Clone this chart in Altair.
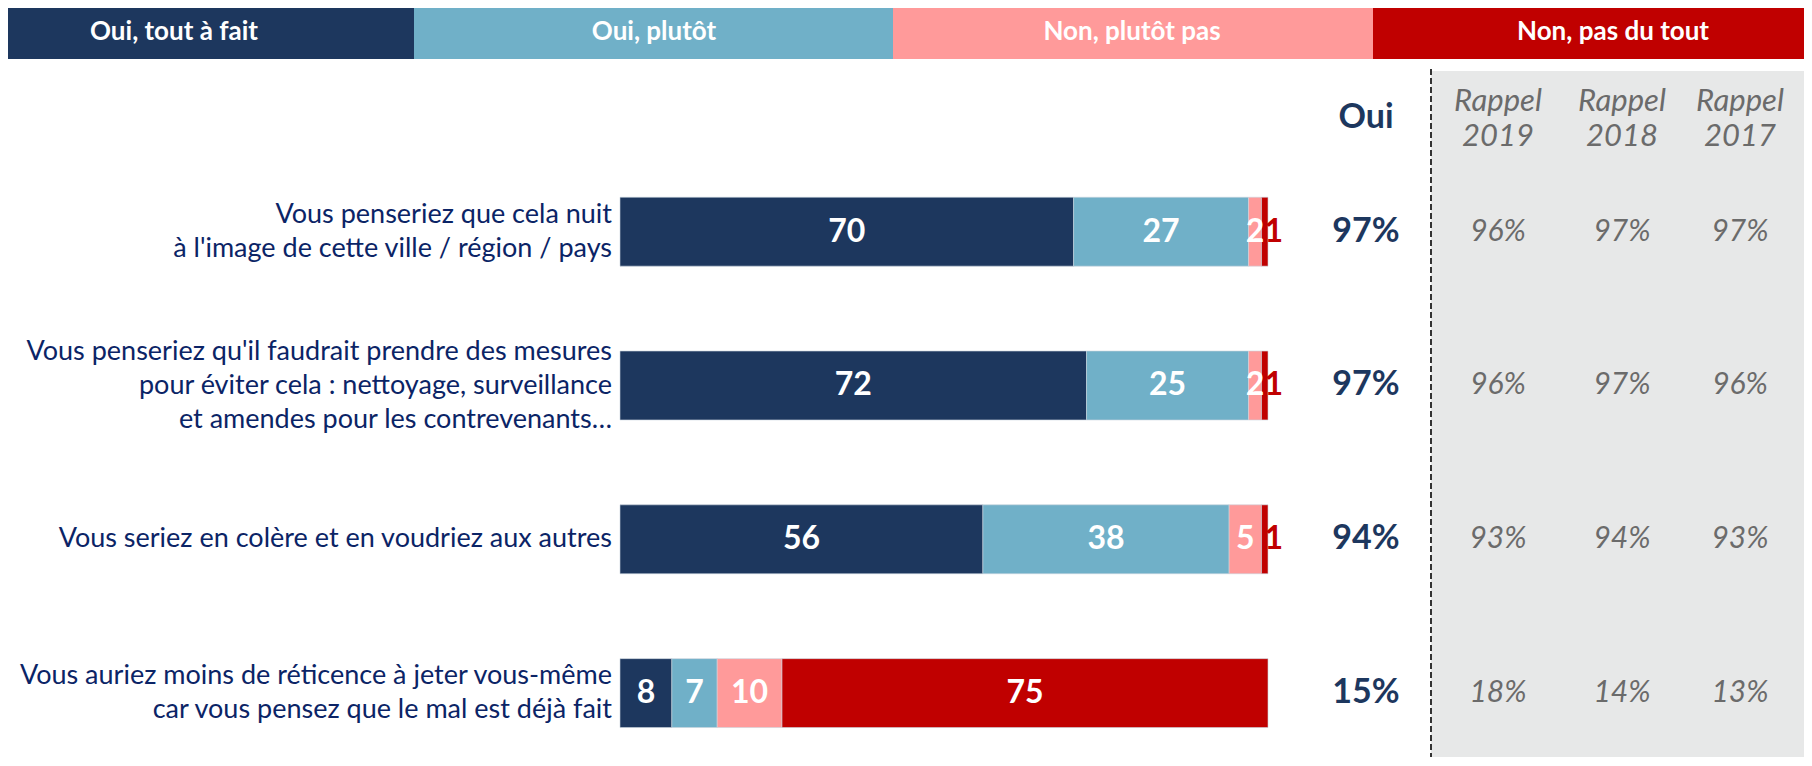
import altair as alt
import pandas as pd

# ---------------- data ----------------
categories = [
    "Vous penseriez que cela nuit\nà l'image de cette ville / région / pays",
    "Vous penseriez qu'il faudrait prendre des mesures\npour éviter cela : nettoyage, surveillance\net amendes pour les contrevenants…",
    "Vous seriez en colère et en voudriez aux autres",
    "Vous auriez moins de réticence à jeter vous-même\ncar vous pensez que le mal est déjà fait",
]
series_names = ["Oui, tout à fait", "Oui, plutôt", "Non, plutôt pas", "Non, pas du tout"]
tout_a_fait = [70, 72, 56, 8]
plutot = [27, 25, 38, 7]
plutot_pas = [2, 2, 5, 10]
pas_du_tout = [1, 1, 1, 75]
oui_total = [97, 97, 94, 15]
rappel_years = ["Rappel\n2019", "Rappel\n2018", "Rappel\n2017"]
rappel_2019 = [96, 96, 93, 18]
rappel_2018 = [97, 97, 94, 14]
rappel_2017 = [97, 96, 93, 13]

# ---------------- style ----------------
colors = ["#1d375e", "#70b0c8", "#ff9a9a", "#c00000"]
label_color = "#0b2466"
navy = "#1d375e"
grey_text = "#6b6b6b"
FONT = "Lato"

W, H = 1796, 750
PX_PER_UNIT = 6.48          # pixels per percentage point
X0_PAGE = 620               # page x of 0 %
ROW1_PAGE = 232             # page y of first bar centre
ROW_STEP = 154              # pixels between rows
LINE_H = 34
HEAD_LINE_H = 35


def u(page_x):
    page_x = min(max(page_x, 8), 8 + W)
    return (page_x - X0_PAGE) / PX_PER_UNIT


def r(page_y):
    page_y = min(max(page_y, 8), 8 + H)
    return (page_y - ROW1_PAGE) / ROW_STEP + 1


xscale = alt.Scale(domain=[u(8), u(8 + W)], nice=False, zero=False)
yscale = alt.Scale(domain=[r(8), r(8 + H)], nice=False, zero=False, reverse=True)
BAR_HALF = 34.5 / ROW_STEP

# ---------------- tables ----------------
seg_rows, lab_rows = [], []
series = [tout_a_fait, plutot, plutot_pas, pas_du_tout]
for i in range(len(categories)):
    start = 0
    for s, vals in enumerate(series):
        v = vals[i]
        seg_rows.append(dict(row=i + 1, x=start, x2=start + v, y=i + 1 - BAR_HALF,
                             y2=i + 1 + BAR_HALF, col=colors[s]))
        small_red = (s == 3 and v < 3)
        lab_rows.append(dict(row=i + 1,
                             x=(start + v + 0.9) if small_red else (start + v / 2),
                             txt=str(v),
                             tcol=colors[3] if small_red else "white"))
        start += v
seg_df = pd.DataFrame(seg_rows)
lab_df = pd.DataFrame(lab_rows)

# first line position so that multi-line labels are centred on the bar
cat_y = [i + 1 - (c.count("\n") * LINE_H / 2) / ROW_STEP for i, c in enumerate(categories)]
cat_df = pd.DataFrame(dict(row=cat_y, x=[0] * 4, txt=categories))
oui_df = pd.DataFrame(dict(row=list(range(1, 5)), x=[u(1366)] * 4,
                           txt=[f"{v}%" for v in oui_total]))
rap_x = [u(1498), u(1622), u(1740)]
rap_rows = []
for xv, vals in zip(rap_x, [rappel_2019, rappel_2018, rappel_2017]):
    for i, v in enumerate(vals):
        rap_rows.append(dict(row=i + 1, x=xv, txt=f"{v}%"))
rap_df = pd.DataFrame(rap_rows)
rap_head_df = pd.DataFrame(dict(row=[r(102)] * 3, x=rap_x, txt=rappel_years))
oui_head_df = pd.DataFrame(dict(row=[r(118)], x=[u(1366)], txt=["Oui"]))

head_edges = [u(0), u(414), u(893), u(1373), u(1812)]
head_text_x = [u(174), u(654), u(1132), u(1613)]
head_df = pd.DataFrame(dict(x=head_edges[:-1], x2=head_edges[1:], y=[r(4)] * 4,
                            y2=[r(59)] * 4, col=colors, tx=head_text_x,
                            ty=[r(32)] * 4, txt=series_names))

bg_df = pd.DataFrame(dict(x=[u(1431)], x2=[u(1812)], y=[r(71)], y2=[r(766)]))
dash_df = pd.DataFrame(dict(x=[u(1431)], y=[r(69)], y2=[r(766)]))


def X(f="x"):
    return alt.X(f"{f}:Q", scale=xscale, axis=None)


def Y(f="row"):
    return alt.Y(f"{f}:Q", scale=yscale, axis=None)


bg = alt.Chart(bg_df).mark_rect(color="#e7e8e8").encode(
    x=X(), x2="x2:Q", y=Y("y"), y2="y2:Q")
dash = alt.Chart(dash_df).mark_rule(color="#333333", strokeWidth=2, strokeDash=[6, 3]).encode(
    x=X(), y=Y("y"), y2="y2:Q")

head_rect = alt.Chart(head_df).mark_rect().encode(
    x=X(), x2="x2:Q", y=Y("y"), y2="y2:Q", color=alt.Color("col:N", scale=None))
head_txt = alt.Chart(head_df).mark_text(font=FONT, fontSize=26, fontWeight="bold",
                                        color="white", baseline="middle").encode(
    x=X("tx"), y=Y("ty"), text="txt:N")

bars = alt.Chart(seg_df).mark_rect(stroke="#c9d3de", strokeWidth=0.6).encode(
    x=X(), x2="x2:Q", y=Y("y"), y2="y2:Q", color=alt.Color("col:N", scale=None))
bar_lab = alt.Chart(lab_df).mark_text(font=FONT, fontSize=32, fontWeight="bold",
                                      baseline="middle").encode(
    x=X(), y=Y(), text="txt:N", color=alt.Color("tcol:N", scale=None))

cat_txt = alt.Chart(cat_df).mark_text(font=FONT, fontSize=27, color=label_color, align="right",
                                      baseline="middle", dx=-8, lineBreak="\n",
                                      lineHeight=LINE_H).encode(
    x=X(), y=Y(), text="txt:N")

oui_head = alt.Chart(oui_head_df).mark_text(font=FONT, fontSize=34, fontWeight="bold",
                                            color=navy, baseline="middle").encode(
    x=X(), y=Y(), text="txt:N")
oui_txt = alt.Chart(oui_df).mark_text(font=FONT, fontSize=34, fontWeight="bold",
                                      color=navy, baseline="middle").encode(
    x=X(), y=Y(), text="txt:N")

rap_head = alt.Chart(rap_head_df).mark_text(font=FONT, fontSize=31, fontStyle="italic",
                                            color=grey_text, baseline="middle", lineBreak="\n",
                                            lineHeight=HEAD_LINE_H).encode(
    x=X(), y=Y(), text="txt:N")
rap_txt = alt.Chart(rap_df).mark_text(font=FONT, fontSize=30, fontStyle="italic",
                                      color=grey_text, baseline="middle").encode(
    x=X(), y=Y(), text="txt:N")

chart = alt.layer(
    bg, dash, head_rect, head_txt, bars, bar_lab, cat_txt, oui_head, oui_txt, rap_head, rap_txt
).properties(
    width=W, height=H, padding=0, background="white",
    autosize=alt.AutoSizeParams(type="fit", contains="padding"),
).configure_view(stroke=None)

chart.save("out.html", embed_options={"renderer": "svg", "actions": False})
